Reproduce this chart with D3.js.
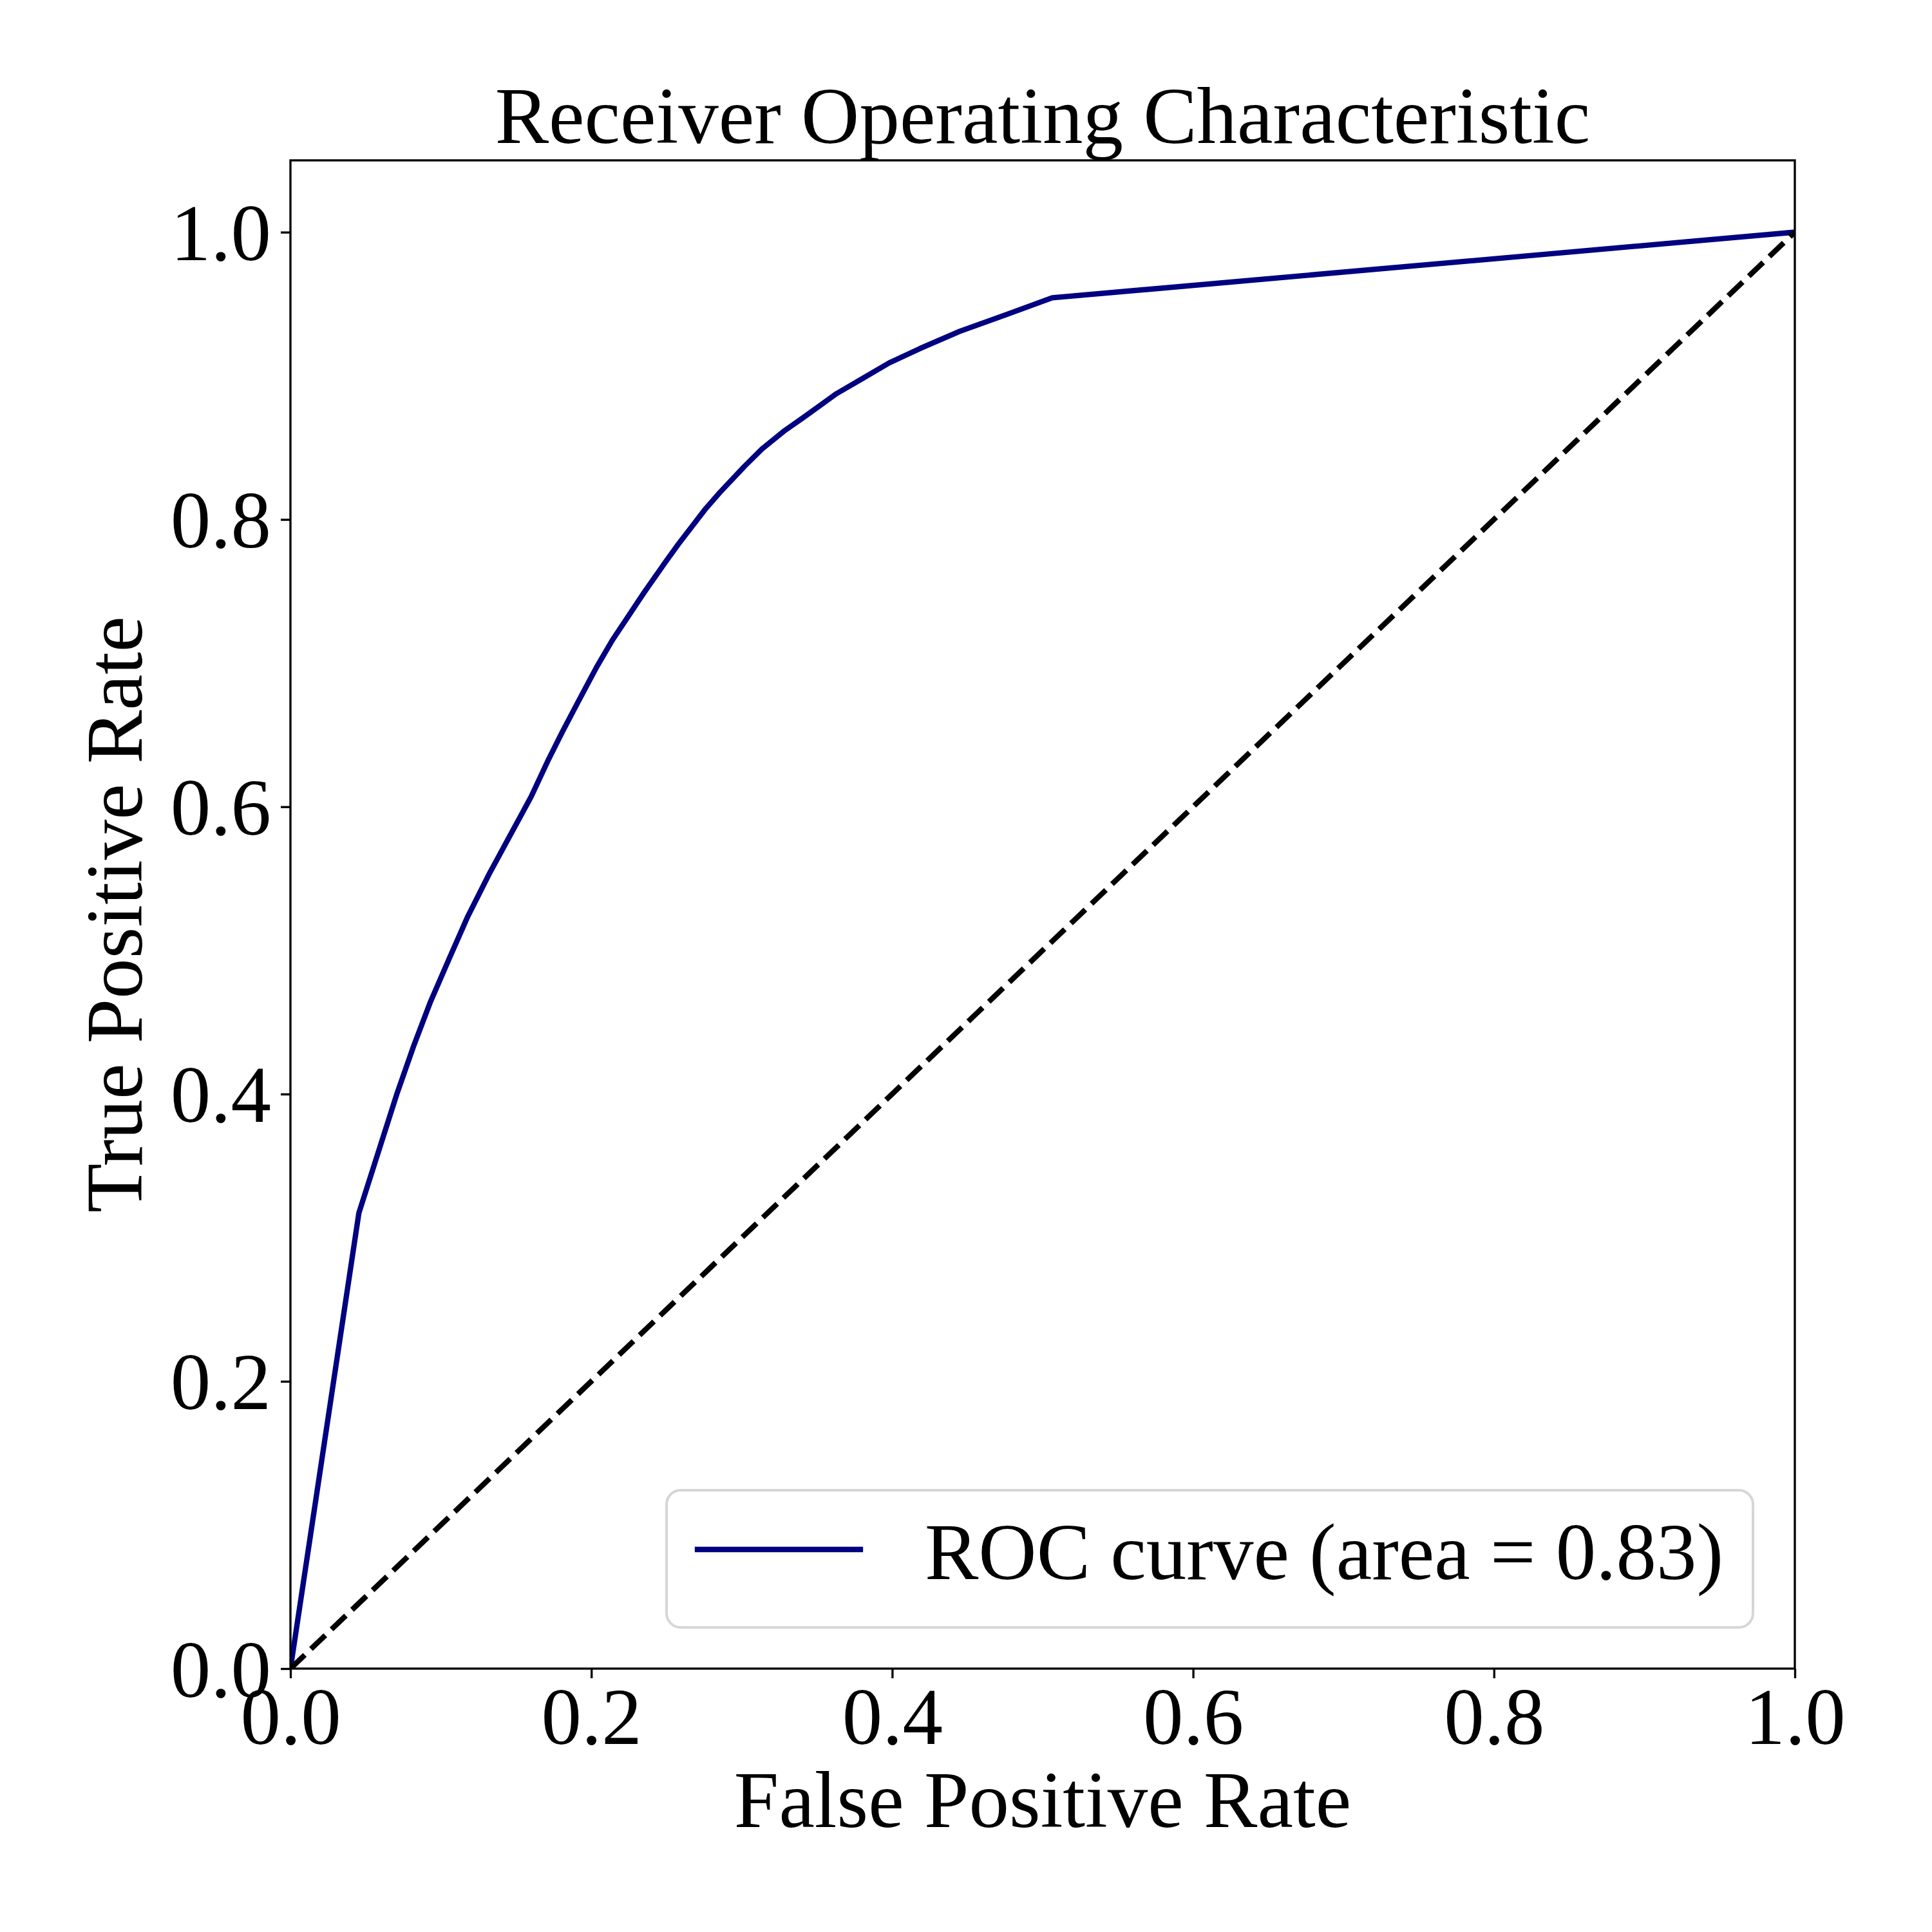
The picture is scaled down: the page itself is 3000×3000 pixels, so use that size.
<!DOCTYPE html>
<html>
<head>
<meta charset="utf-8">
<script src="https://cdn.jsdelivr.net/npm/d3@7"></script>
<style>
  html, body { margin: 0; padding: 0; background: #ffffff; }
  svg { display: block; }
  text { font-family: "Liberation Serif", "Times New Roman", serif; fill: #000; }
</style>
</head>
<body>
<svg id="chart" width="3000" height="3000"></svg>
<script>
// ---- data ----
const fpr = [0, 0.0455, 0.0706, 0.0821, 0.0928, 0.105, 0.1176, 0.132, 0.146, 0.160, 0.1716, 0.1807, 0.1907, 0.2034, 0.214, 0.235, 0.249, 0.258, 0.276, 0.2856, 0.3018, 0.3134, 0.3287, 0.341, 0.363, 0.380, 0.398, 0.4185, 0.445, 0.476, 0.5064, 1.0];
const tpr = [0, 0.3172, 0.3996, 0.434, 0.4635, 0.493, 0.523, 0.553, 0.580, 0.607, 0.633, 0.652, 0.672, 0.697, 0.716, 0.749, 0.770, 0.783, 0.8075, 0.819, 0.837, 0.849, 0.862, 0.871, 0.8876, 0.898, 0.909, 0.919, 0.931, 0.9427, 0.9543, 1.0];
const chanceX = [0, 1];
const chanceY = [0, 1];
const xTicks = [0.0, 0.2, 0.4, 0.6, 0.8, 1.0];
const yTicks = [0.0, 0.2, 0.4, 0.6, 0.8, 1.0];
const xDomain = [0, 1.0];
const yDomain = [0, 1.05];
const titleText = "Receiver Operating Characteristic";
const xLabel = "False Positive Rate";
const yLabel = "True Positive Rate";
const legendLabel = "ROC curve (area = 0.83)";

// ---- layout ----
const L = 451, R = 2787, T = 249, B = 2591;
const FS = 125;
const LW = 8.33;
const svg = d3.select("#chart");

const x = d3.scaleLinear().domain(xDomain).range([L, R]);
const y = d3.scaleLinear().domain(yDomain).range([B, T]);

svg.append("rect").attr("x", 0).attr("y", 0).attr("width", 3000).attr("height", 3000).attr("fill", "#fff");

svg.append("defs").append("clipPath").attr("id", "clip")
  .append("rect").attr("x", L).attr("y", T).attr("width", R - L).attr("height", B - T);

const plot = svg.append("g").attr("clip-path", "url(#clip)");

const line = d3.line().x(d => x(d[0])).y(d => y(d[1]));

plot.append("path")
  .datum(fpr.map((v, i) => [v, tpr[i]]))
  .attr("d", line)
  .attr("fill", "none")
  .attr("stroke", "#000080")
  .attr("stroke-width", LW)
  .attr("stroke-linejoin", "round")
  .attr("stroke-linecap", "square");

plot.append("path")
  .datum(chanceX.map((v, i) => [v, chanceY[i]]))
  .attr("d", line)
  .attr("fill", "none")
  .attr("stroke", "#000")
  .attr("stroke-width", LW)
  .attr("stroke-dasharray", "30.8,13.3")
  .attr("stroke-linecap", "butt");

// axes
const fmt = d3.format(".1f");
const xAxis = svg.append("g").attr("transform", `translate(0,${B})`)
  .call(d3.axisBottom(x).tickValues(xTicks).tickFormat(fmt).tickSize(15).tickPadding(15));
const yAxis = svg.append("g").attr("transform", `translate(${L},0)`)
  .call(d3.axisLeft(y).tickValues(yTicks).tickFormat(fmt).tickSize(15).tickPadding(15));

[xAxis, yAxis].forEach(g => {
  g.select(".domain").remove();
  g.selectAll(".tick line").attr("stroke", "#000").attr("stroke-width", 3.33);
  g.selectAll(".tick text")
    .style("font-family", '"Liberation Serif", "Times New Roman", serif')
    .style("font-size", FS + "px")
    .attr("fill", "#000");
});
xAxis.selectAll(".tick text").attr("dy", null).attr("y", 15 + 15 + 87);
yAxis.selectAll(".tick text").attr("dy", null).attr("y", 43).attr("x", -30);

// spines
svg.append("rect")
  .attr("x", L).attr("y", T).attr("width", R - L).attr("height", B - T)
  .attr("fill", "none").attr("stroke", "#000").attr("stroke-width", 3.33);

// title and labels
svg.append("text").attr("x", (L + R) / 2).attr("y", 222)
  .attr("text-anchor", "middle").style("font-size", FS + "px").text(titleText);
svg.append("text").attr("x", (L + R) / 2).attr("y", 2837)
  .attr("text-anchor", "middle").style("font-size", FS + "px").text(xLabel);
svg.append("text")
  .attr("transform", `translate(220,${(T + B) / 2}) rotate(-90)`)
  .attr("text-anchor", "middle").style("font-size", FS + "px").text(yLabel);

// legend
const leg = svg.append("g");
leg.append("rect")
  .attr("x", 1035).attr("y", 2314).attr("width", 1687).attr("height", 213)
  .attr("rx", 22).attr("ry", 22)
  .attr("fill", "rgba(255,255,255,0.8)")
  .attr("stroke", "#d6d6d6").attr("stroke-width", 4);
leg.append("line")
  .attr("x1", 1083).attr("x2", 1336).attr("y1", 2406).attr("y2", 2406)
  .attr("stroke", "#000080").attr("stroke-width", LW).attr("stroke-linecap", "square");
leg.append("text").attr("x", 1436).attr("y", 2452)
  .style("font-size", FS + "px").text(legendLabel);
</script>
</body>
</html>
